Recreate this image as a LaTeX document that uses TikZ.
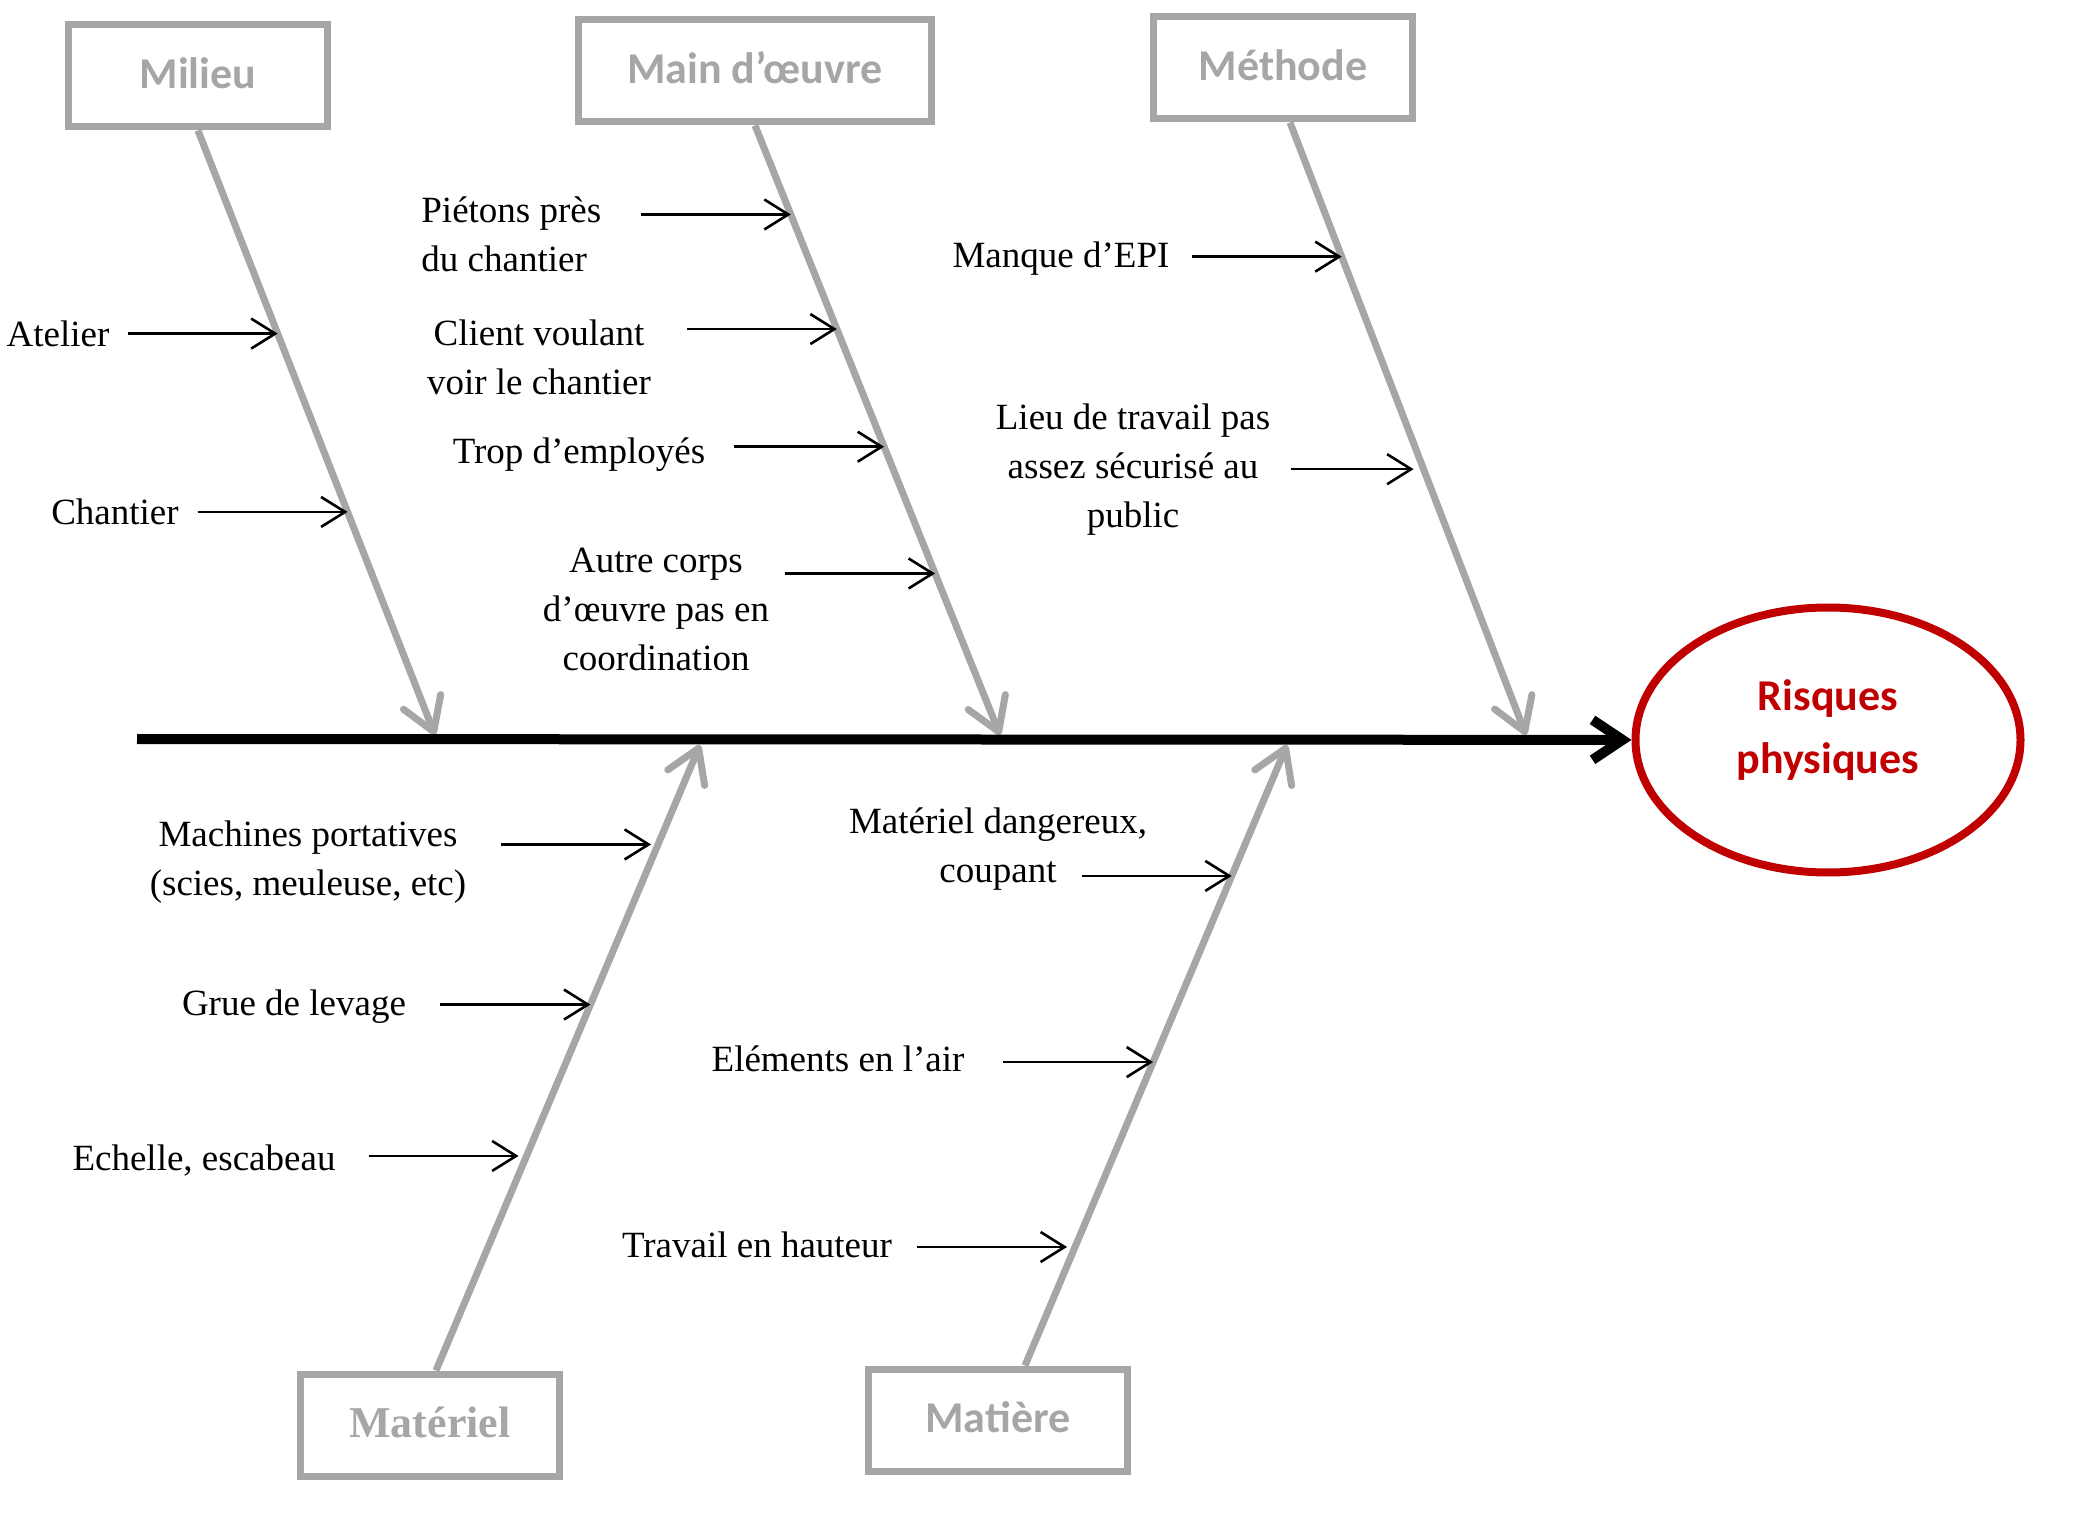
\documentclass[tikz,border=0pt]{standalone}
\usepackage{fontspec}
\setmainfont{Liberation Serif}
\newfontfamily\calibri{Carlito}
\usetikzlibrary{arrows.meta,shapes.geometric,calc}
\definecolor{bonegray}{HTML}{A6A6A6}
\definecolor{effetred}{HTML}{C00000}
\tikzset{
  categorie/.style={draw=bonegray, line width=3.5pt, minimum width=129.5pt, minimum height=51pt,
    inner sep=0pt, text height=16pt, text depth=3.5pt, text=bonegray,
    font=\calibri\bfseries\fontsize{22}{26}\selectfont},
  bone/.style={draw=bonegray, line width=3.5pt, -{Straight Barb[length=16pt,width=20pt,round]}},
  cause/.style={line width=1.3pt, -{Straight Barb[length=12pt,width=15pt]}},
  causetext/.style={inner sep=0pt, align=center, font=\fontsize{18.5}{24.5}\selectfont},
  spine/.style={line width=5pt, -{Straight Barb[length=15pt,width=20pt]}},
  effet/.style={ellipse, draw=effetred, line width=4pt, minimum width=192.5pt, minimum height=132.5pt, inner sep=0pt},
}
\begin{document}
\begin{tikzpicture}[x=0.5pt,y=-0.5pt]
  \useasboundingbox (0,0) rectangle (2073,1529);
  % categories
  \node[categorie] (milieu) at (198,76) {Milieu};
  \node[categorie, minimum width=176.5pt] (main) at (755,71) {Main d’œuvre};
  \node[categorie] (methode) at (1283,68) {Méthode};
  \node[categorie, font=\bfseries\fontsize{22}{26}\selectfont] (materiel) at (430,1425) {Matériel};
  \node[categorie] (matiere) at (998,1420) {Matière};
  % effect
  \node[effet] (risques) at (1828,740) {};
  \node[inner sep=0pt, align=center, text=effetred, font=\calibri\bfseries\fontsize{22}{31.5}\selectfont]
    (risquesText) at ([yshift=5pt]risques.center) {Risques\\physiques};
  % bones
  \coordinate (milieuFoot) at (milieu.south);
  \coordinate (mainFoot) at (main.south);
  \coordinate (methodeFoot) at ([xshift=3.5pt]methode.south);
  \coordinate (materielFoot) at ([xshift=3pt]materiel.north);
  \coordinate (matiereFoot) at ([xshift=13.5pt]matiere.north);
  \coordinate (milieuTip) at (435,735);
  \coordinate (mainTip) at (1000,735);
  \coordinate (methodeTip) at (1526,735);
  \coordinate (materielTip) at (700,745);
  \coordinate (matiereTip) at (1287,745);
  \draw[bone] (milieuFoot) -- (milieuTip);
  \draw[bone] (mainFoot) -- (mainTip);
  \draw[bone] (methodeFoot) -- (methodeTip);
  \draw[bone] (materielFoot) -- (materielTip);
  \draw[bone] (matiereFoot) -- (matiereTip);
  % spine
  \coordinate (spineStart) at (137,739);
  \draw[spine] (spineStart) -- (risques);
  % causes milieu
  \node[causetext] (atelier) at (58,334) {Atelier};
  \node[causetext] (chantier) at (115,512) {Chantier};
  \coordinate (atelierEnd) at ($(milieuFoot)!0.336!(milieuTip)$);
  \coordinate (chantierEnd) at ($(milieuFoot)!0.631!(milieuTip)$);
  \draw[cause] ([xshift=-75pt]atelierEnd) -- (atelierEnd);
  \draw[cause] ([xshift=-75pt]chantierEnd) -- (chantierEnd);
  % causes main d'oeuvre
  \node[causetext, align=left, anchor=west] (pietons) at (421,234) {Piétons près\\du chantier};
  \node[causetext] (client) at (539,357) {Client voulant\\voir le chantier};
  \node[causetext] (trop) at (579,455) {Trop d’employés};
  \node[causetext] (autre) at (656,609) {Autre corps\\d’œuvre pas en\\coordination};
  \coordinate (pietonsEnd) at ($(mainFoot)!0.146!(mainTip)$);
  \coordinate (clientEnd) at ($(mainFoot)!0.334!(mainTip)$);
  \coordinate (tropEnd) at ($(mainFoot)!0.527!(mainTip)$);
  \coordinate (autreEnd) at ($(mainFoot)!0.735!(mainTip)$);
  \draw[cause] ([xshift=-75pt]pietonsEnd) -- (pietonsEnd);
  \draw[cause] ([xshift=-75pt]clientEnd) -- (clientEnd);
  \draw[cause] ([xshift=-75pt]tropEnd) -- (tropEnd);
  \draw[cause] ([xshift=-75pt]autreEnd) -- (autreEnd);
  % causes methode
  \node[causetext] (manque) at (1061,259) {Manque d’EPI};
  \node[causetext] (lieu) at (1133,470) {Lieu de travail pas\\assez sécurisé au\\public};
  \coordinate (manqueEnd) at ($(methodeFoot)!0.219!(methodeTip)$);
  \coordinate (lieuEnd) at ($(methodeFoot)!0.566!(methodeTip) + (-10,0)$);
  \draw[cause] ([xshift=-75pt]manqueEnd) -- (manqueEnd);
  \draw[cause] ([xshift=-61.5pt]lieuEnd) -- (lieuEnd);
  % causes materiel
  \node[causetext] (machines) at (308,862) {Machines portatives\\(scies, meuleuse, etc)};
  \node[causetext] (grue) at (294,1007) {Grue de levage};
  \node[causetext] (echelle) at (204,1161) {Echelle, escabeau};
  \coordinate (machinesEnd) at ($(materielFoot)!0.841!(materielTip) + (-7,0)$);
  \coordinate (grueEnd) at ($(materielFoot)!0.585!(materielTip)$);
  \coordinate (echelleEnd) at ($(materielFoot)!0.343!(materielTip) + (-8,0)$);
  \draw[cause] ([xshift=-75pt]machinesEnd) -- (machinesEnd);
  \draw[cause] ([xshift=-75pt]grueEnd) -- (grueEnd);
  \draw[cause] ([xshift=-75pt]echelleEnd) -- (echelleEnd);
  % causes matiere
  \node[causetext] (dangereux) at (998,849) {Matériel dangereux,\\coupant};
  \node[causetext] (elements) at (838,1059) {Eléments en l’air};
  \node[causetext] (travail) at (757,1245) {Travail en hauteur};
  \coordinate (dangereuxEnd) at ($(matiereFoot)!0.789!(matiereTip)$);
  \coordinate (elementsEnd) at ($(matiereFoot)!0.489!(matiereTip)$);
  \coordinate (travailEnd) at ($(matiereFoot)!0.191!(matiereTip) + (-8,0)$);
  \draw[cause] ([xshift=-75pt]dangereuxEnd) -- (dangereuxEnd);
  \draw[cause] ([xshift=-75pt]elementsEnd) -- (elementsEnd);
  \draw[cause] ([xshift=-75pt]travailEnd) -- (travailEnd);
\end{tikzpicture}
\end{document}
